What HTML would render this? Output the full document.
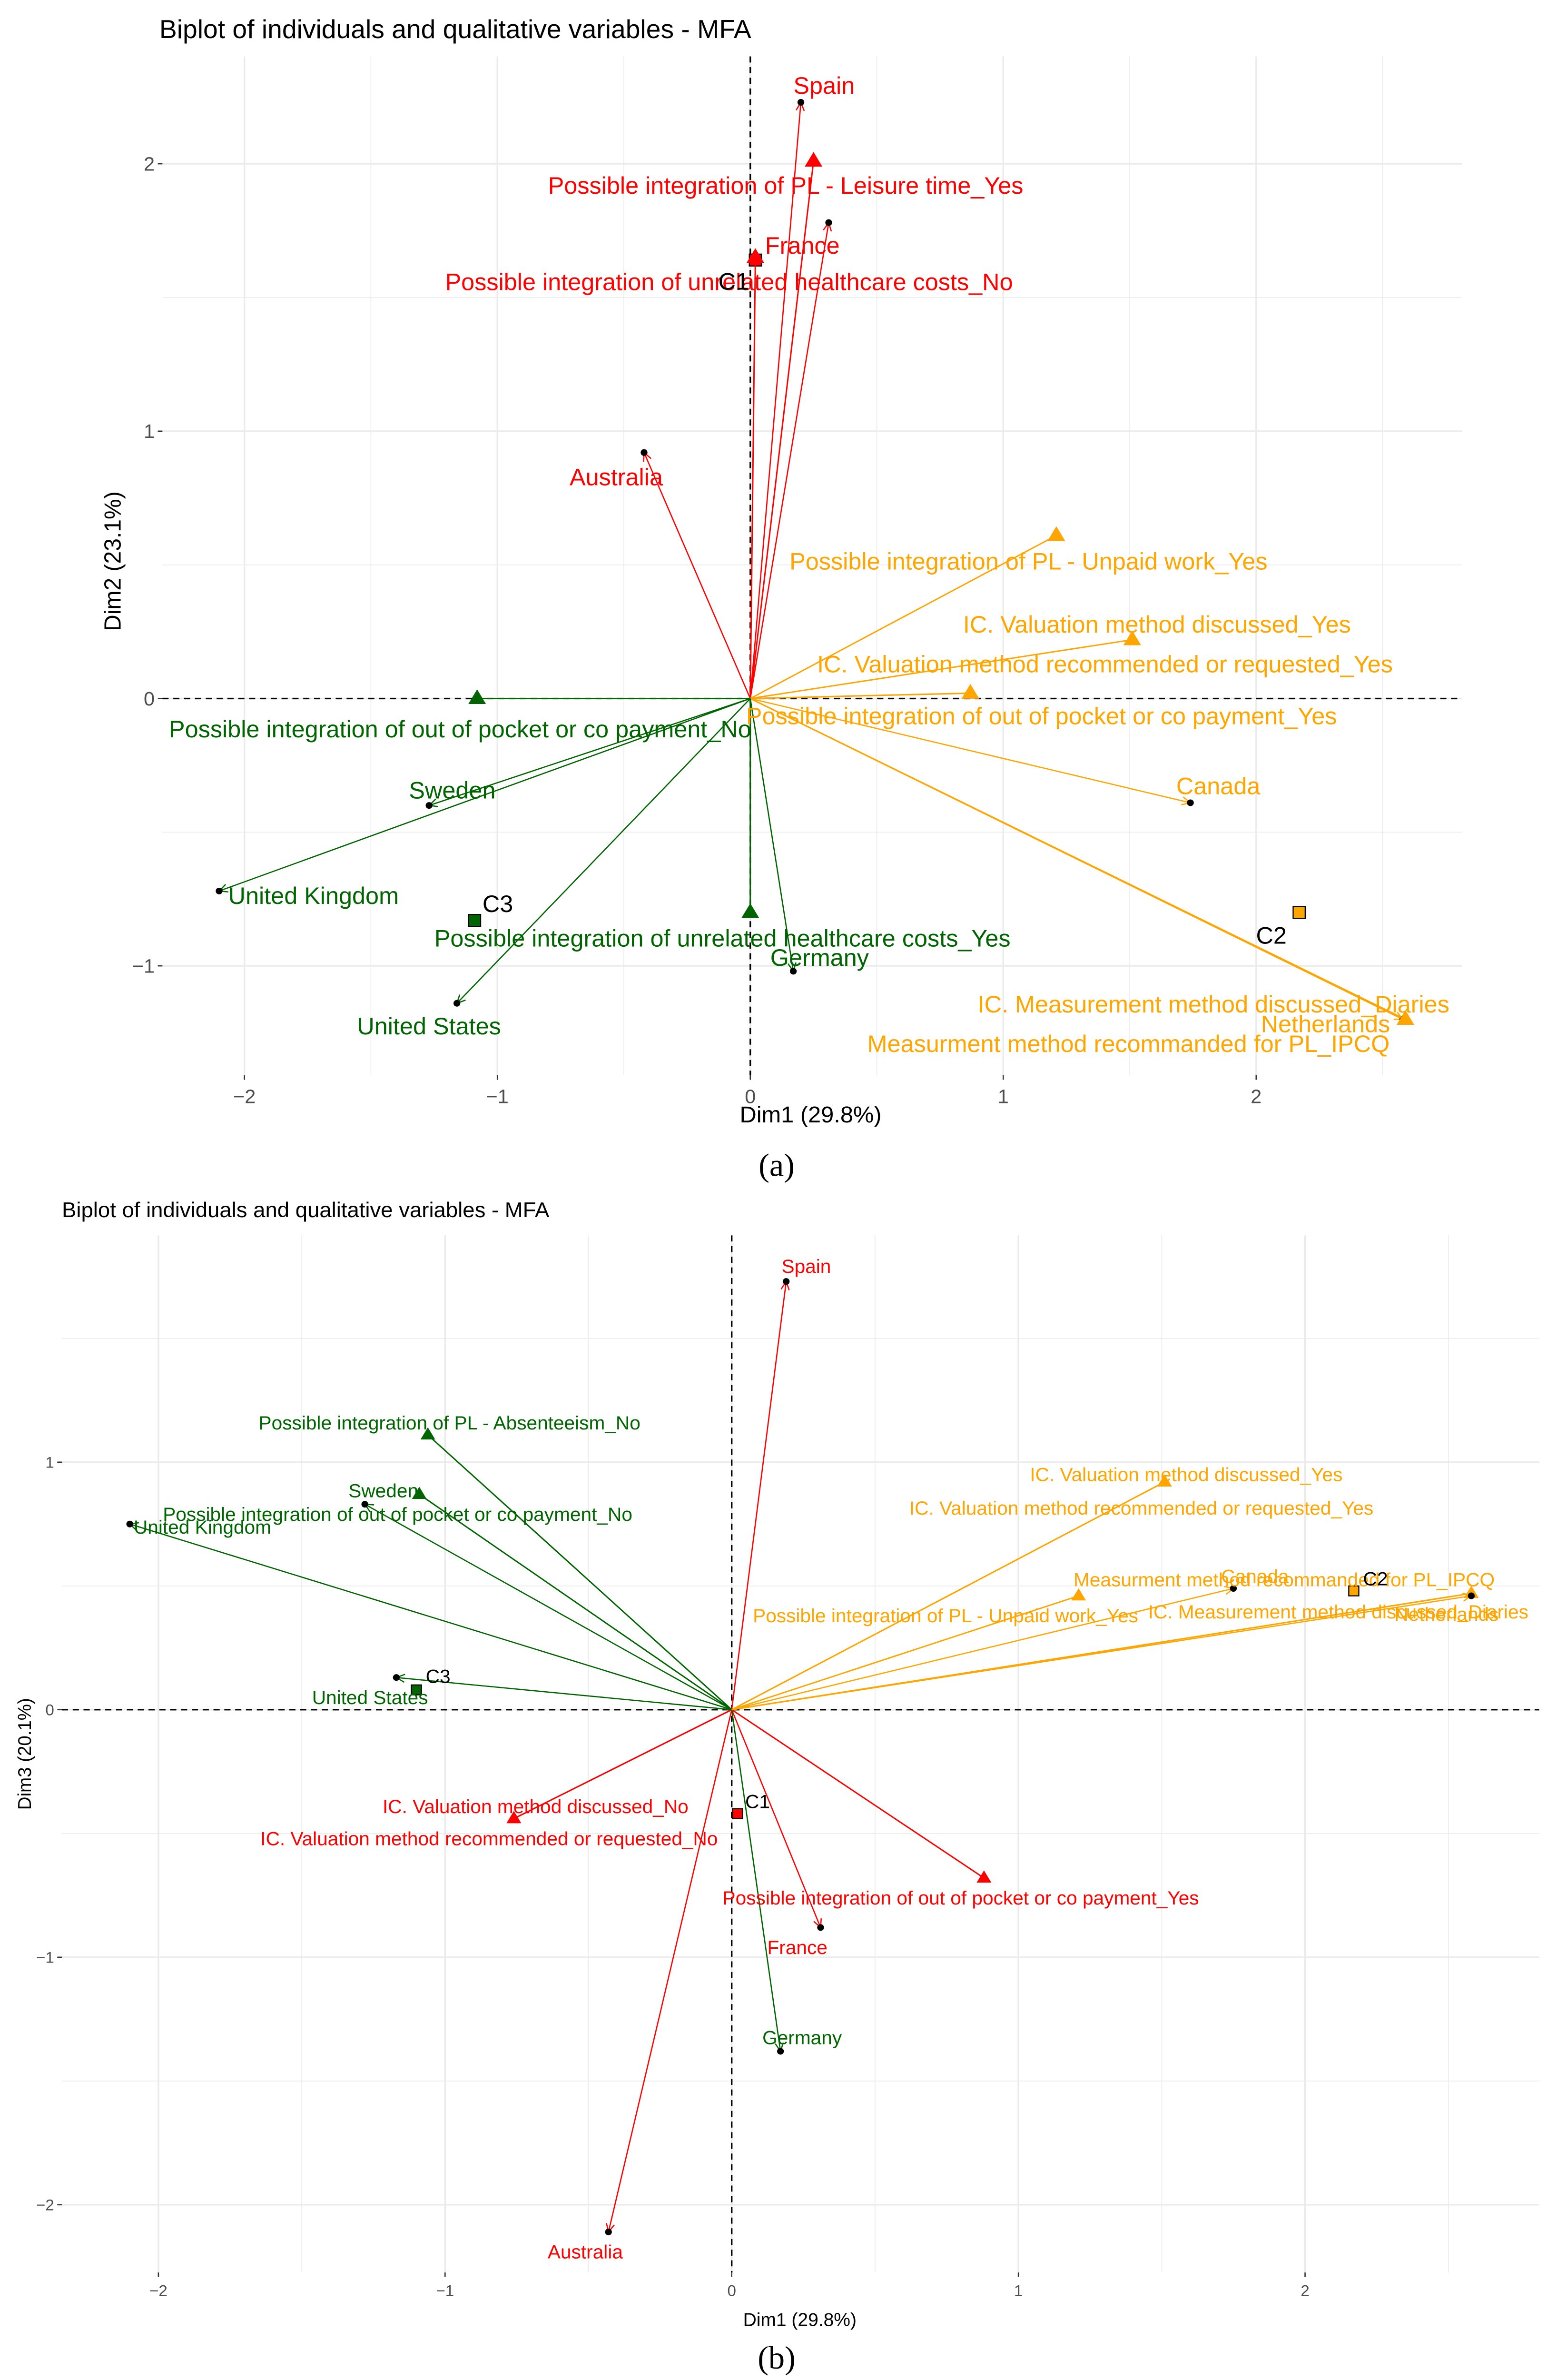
<!DOCTYPE html>
<html><head><meta charset="utf-8"><style>
html,body{margin:0;padding:0;background:#fff;width:100vw;height:100vh;overflow:hidden}
svg{display:block;width:100vw;height:100vh}
text{font-family:"Liberation Sans",sans-serif}
</style></head><body>
<svg id="root" xmlns="http://www.w3.org/2000/svg" viewBox="0 0 1000 1560.5" preserveAspectRatio="none">
<rect width="1000" height="1560.5" fill="#fff"/>
<g id="chartA"></g>
<g id="chartB"></g>
<text x="502" y="771" font-size="21" text-anchor="middle" style="font-family:'Liberation Serif',serif">(a)</text>
<text x="502" y="1553" font-size="21" text-anchor="middle" style="font-family:'Liberation Serif',serif">(b)</text>
</svg>
<script>
// ---- Chart A data (Dim1 vs Dim2)
const aNames=["Spain","Possible integration of PL - Leisure time_Yes","France","Possible integration of unrelated healthcare costs_No","Australia","C1","Possible integration of PL - Unpaid work_Yes","IC. Valuation method discussed_Yes","IC. Valuation method recommended or requested_Yes","Possible integration of out of pocket or co payment_Yes","Canada","IC. Measurement method discussed_Diaries","Netherlands","Measurment method recommanded for PL_IPCQ","C2","Possible integration of out of pocket or co payment_No","Sweden","United Kingdom","C3","Possible integration of unrelated healthcare costs_Yes","Germany","United States"];
const aX=[0.20,0.25,0.31,0.02,-0.42,0.02,1.21,1.51,0.87,0.87,1.74,2.59,2.58,2.59,2.17,-1.08,-1.27,-2.10,-1.09,0.00,0.17,-1.16];
const aY=[2.23,2.01,1.78,1.65,0.92,1.64,0.61,0.22,0.02,0.02,-0.39,-1.20,-1.20,-1.20,-0.80,0.00,-0.40,-0.72,-0.83,-0.80,-1.02,-1.14];
const aKind=["ind","cat","ind","cat","ind","cen","cat","cat","cat","cat","ind","cat","ind","cat","cen","cat","ind","ind","cen","cat","ind","ind"];
const aGroup=["r","r","r","r","r","r","o","o","o","o","o","o","o","o","o","g","g","g","g","g","g","g"];
const aXTicks=[-2,-1,0,1,2];
const aYTicks=[-1,0,1,2];
// ---- Chart B data (Dim1 vs Dim3)
const bNames=["Spain","IC. Valuation method discussed_No","IC. Valuation method recommended or requested_No","Possible integration of out of pocket or co payment_Yes","France","Australia","C1","Possible integration of PL - Absenteeism_No","Sweden","Possible integration of out of pocket or co payment_No","United Kingdom","C3","United States","Germany","IC. Valuation method discussed_Yes","IC. Valuation method recommended or requested_Yes","Possible integration of PL - Unpaid work_Yes","IC. Measurement method discussed_Diaries","Measurment method recommanded for PL_IPCQ","Canada","C2","Netherlands"];
const bX=[0.19,-0.76,-0.76,0.88,0.31,-0.43,0.02,-1.06,-1.28,-1.09,-2.10,-1.10,-1.17,0.17,1.51,1.51,1.21,2.58,2.58,1.75,2.17,2.58];
const bY=[1.73,-0.44,-0.44,-0.68,-0.88,-2.11,-0.42,1.11,0.83,0.87,0.75,0.08,0.13,-1.38,0.92,0.92,0.46,0.47,0.47,0.49,0.48,0.46];
const bKind=["ind","cat","cat","cat","ind","ind","cen","cat","ind","cat","ind","cen","ind","ind","cat","cat","cat","cat","cat","ind","cen","ind"];
const bGroup=["r","r","r","r","r","r","r","g","g","g","g","g","g","g","o","o","o","o","o","o","o","o"];
const bXTicks=[-2,-1,0,1,2];
const bYTicks=[-2,-1,0,1];

// label offsets in pixels (styling)
const aOff=[[15,-11],[-18,16],[-17,15],[-17,16],[-18,16],[-14,14],[-18,17],[16,-10],[87,-19],[46,15],[18,-11],[-124,-10],[-50,3],[-179,16],[-18,15],[-11,20],[15,-10],[61,3],[15,-11],[-18,17],[17,-9],[-18,15]];
const bOff=[[13,-10],[14,-8],[-16,13],[-15,13],[-15,13],[-15,13],[13,-8],[14,-8],[12,-9],[-14,13],[47,2],[14,-9],[-17,13],[14,-9],[14,-5],[-15,17],[-86,13],[-86,12],[-121,-9],[14,-8],[14,-8],[-16,12]];
const COL={r:"#FF0000",o:"#FFA500",g:"#006400"};
const NS="http://www.w3.org/2000/svg";
function mk(tag,attrs,parent){const e=document.createElementNS(NS,tag);for(const k in attrs)e.setAttribute(k,attrs[k]);parent.appendChild(e);return e;}

function draw(g,cfg){
  const sx=v=>cfg.x0+v*cfg.kx, sy=v=>cfg.y0-v*cfg.ky;
  const P=cfg.panel;
  const xmin=(P[0]-cfg.x0)/cfg.kx, xmax=(P[2]-cfg.x0)/cfg.kx;
  const ymax=(cfg.y0-P[1])/cfg.ky, ymin=(cfg.y0-P[3])/cfg.ky;
  for(let v=Math.ceil(xmin*2)/2;v<=xmax;v+=0.5){
    const l=mk("line",{x1:sx(v),x2:sx(v),y1:P[1],y2:P[3],stroke:"#ebebeb","stroke-width":Number.isInteger(v)?1:0.5},g);
    
    
  }
  for(let v=Math.ceil(ymin*2)/2;v<=ymax;v+=0.5){
    const l=mk("line",{x1:P[0],x2:P[2],y1:sy(v),y2:sy(v),stroke:"#ebebeb","stroke-width":Number.isInteger(v)?1:0.5},g);
    
    
  }
  let z=mk("line",{x1:sx(0),x2:sx(0),y1:P[1],y2:P[3],stroke:"#000","stroke-width":1,"stroke-dasharray":"4,3"},g);
  
  
  z=mk("line",{x1:P[0],x2:P[2],y1:sy(0),y2:sy(0),stroke:"#000","stroke-width":1,"stroke-dasharray":"4,3"},g);
  
  
  cfg.xt.forEach(v=>{
    mk("line",{x1:sx(v),x2:sx(v),y1:P[3],y2:P[3]+3,stroke:"#333","stroke-width":0.8},g);
    const t=mk("text",{x:sx(v),y:P[3]+cfg.fs*0.95+4,"font-size":cfg.fs*0.85,fill:"#4d4d4d","text-anchor":"middle"},g);
    t.textContent=v<0?"\u2212"+(-v):v;
    
    
  });
  cfg.yt.forEach(v=>{
    mk("line",{x1:P[0]-3,x2:P[0],y1:sy(v),y2:sy(v),stroke:"#333","stroke-width":0.8},g);
    const t=mk("text",{x:P[0]-5,y:sy(v)+cfg.fs*0.3,"font-size":cfg.fs*0.85,fill:"#4d4d4d","text-anchor":"end"},g);
    t.textContent=v<0?"\u2212"+(-v):v;
    
    
  });
  const ox=sx(0), oy=sy(0);
  cfg.names.forEach((n,i)=>{
    if(cfg.kind[i]!=="cen") return;
    const c=COL[cfg.grp[i]], px=sx(cfg.X[i]), py=sy(cfg.Y[i]), s=cfg.tri*0.65;
    const sq=mk("rect",{x:px-s,y:py-s,width:2*s,height:2*s,fill:c,stroke:"#000","stroke-width":0.7},g);
    
    
  });
  cfg.names.forEach((n,i)=>{
    const c=COL[cfg.grp[i]], px=sx(cfg.X[i]), py=sy(cfg.Y[i]), k=cfg.kind[i];
    if(k==="cen") return;
    const ln=mk("line",{x1:ox,y1:oy,x2:px,y2:py,stroke:c,"stroke-width":k==="cat"?0.9:0.8},g);
    
    
    if(k==="ind"){
      const a=Math.atan2(py-oy,px-ox), L=6;
      const pts=[[px-L*Math.cos(a-0.45),py-L*Math.sin(a-0.45)],[px,py],[px-L*Math.cos(a+0.45),py-L*Math.sin(a+0.45)]];
      const ah=mk("polyline",{points:pts.map(p=>p.join(",")).join(" "),fill:"none",stroke:c,"stroke-width":0.8},g);
      
      
      const d=mk("circle",{cx:px,cy:py,r:2.2,fill:"#000"},g);
      
      
    } else {
      const s=cfg.tri;
      const tr=mk("polygon",{points:`${px},${py-s} ${px-s*0.95},${py+s*0.6} ${px+s*0.95},${py+s*0.6}`,fill:c},g);
      
      
    }
  });
  cfg.names.forEach((n,i)=>{
    const px=sx(cfg.X[i]), py=sy(cfg.Y[i]);
    const t=mk("text",{x:px+cfg.off[i][0],y:py+cfg.off[i][1]+cfg.lfs*0.35,"font-size":cfg.lfs,fill:cfg.kind[i]==="cen"?"#000":COL[cfg.grp[i]],"text-anchor":"middle"},g);
    t.textContent=n;
    
    
  });
  let t=mk("text",{x:cfg.title[0],y:cfg.title[1],"font-size":cfg.tfs,fill:"#000"},g);
  t.textContent="Biplot of individuals and qualitative variables - MFA";
  
  
  t=mk("text",{x:cfg.xlab[0],y:cfg.xlab[1],"font-size":cfg.fs,fill:"#000","text-anchor":"middle"},g);
  t.textContent="Dim1 (29.8%)";
  
  
  t=mk("text",{x:cfg.ylab[0],y:cfg.ylab[1],"font-size":cfg.fs,fill:"#000","text-anchor":"middle",transform:`rotate(-90 ${cfg.ylab[0]} ${cfg.ylab[1]})`},g);
  t.textContent=cfg.ylabText;
  
  
}
draw(document.getElementById("chartA"),{names:aNames,X:aX,Y:aY,kind:aKind,grp:aGroup,off:aOff,xt:aXTicks,yt:aYTicks,
  x0:485,kx:163.5,y0:458,ky:175.3,panel:[105,37,945,705],fs:15,lfs:15.5,tfs:17,tri:6,
  title:[103,25],xlab:[524,736],ylab:[78,368],ylabText:"Dim2 (23.1%)"});
draw(document.getElementById("chartB"),{names:bNames,X:bX,Y:bY,kind:bKind,grp:bGroup,off:bOff,xt:bXTicks,yt:bYTicks,
  x0:473,kx:185.3,y0:1121,ky:162.3,panel:[40,810,995,1490],fs:12,lfs:12.5,tfs:14,tri:5,
  title:[40,798],xlab:[517,1525],ylab:[20,1150],ylabText:"Dim3 (20.1%)"});
</script>
</body></html>
